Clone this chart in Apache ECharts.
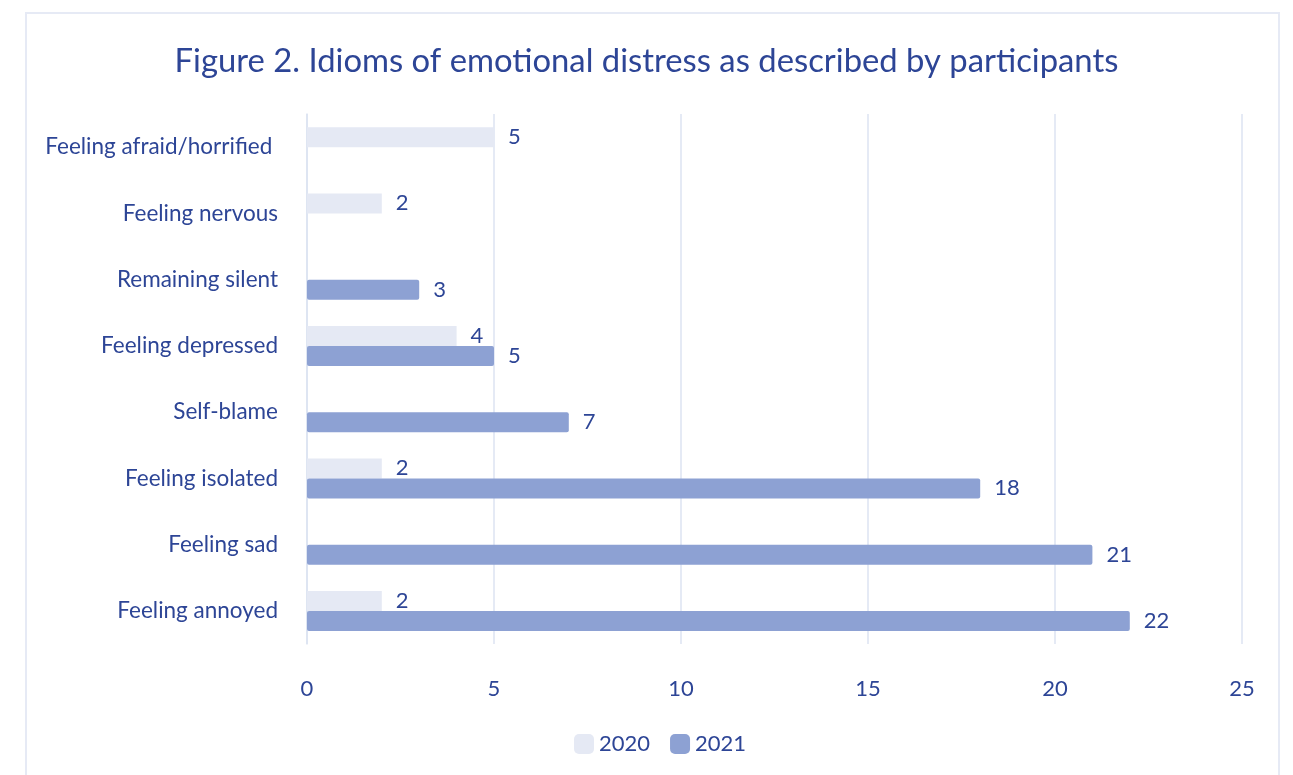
<!DOCTYPE html>
<html>
<head>
<meta charset="utf-8">
<script src="https://cdn.jsdelivr.net/npm/echarts@6/dist/echarts.min.js"></script>
<style>
  html, body { margin: 0; padding: 0; background: #fff; }
  #frame { position: absolute; left: 25px; top: 12px; width: 1255px; height: 780px; border: 2px solid #e6eaf5; box-sizing: border-box; }
  #chart { position: absolute; left: 0; top: 0; width: 1293px; height: 775px; }
</style>
</head>
<body>
<div id="frame"></div>
<div id="chart"></div>
<script>
// categories, listed top to bottom
var categories = ['Feeling afraid/horrified ', 'Feeling nervous', 'Remaining silent', 'Feeling depressed',
    'Self-blame', 'Feeling isolated', 'Feeling sad', 'Feeling annoyed'];
var values2020 = [5, 2, null, 4, null, 2, null, 2];
var values2021 = [null, null, 3, 5, 7, 18, 21, 22];
var xTicks = [0, 5, 10, 15, 20, 25];

var textColor = '#2d4596';

var chart = echarts.init(document.getElementById('chart'));

var labelStyle = {
    show: true,
    position: 'right',
    distance: 14,
    color: textColor,
    fontSize: 22,
    fontFamily: 'Lato'
};

var option = {
    title: {
        text: 'Figure 2. Idioms of emotional distress as described by participants',
        left: 'center',
        top: 40,
        textStyle: { color: textColor, fontSize: 32.8, fontWeight: 'normal', fontFamily: 'Lato' }
    },
    legend: {
        data: ['2020', '2021'],
        bottom: 15,
        left: 569,
        itemWidth: 20,
        itemHeight: 20,
        itemGap: 20,
        textStyle: { color: textColor, fontSize: 22, fontFamily: 'Lato' }
    },
    grid: { left: 307, right: 51, top: 114, bottom: 131 },
    xAxis: {
        type: 'value',
        min: xTicks[0],
        max: xTicks[xTicks.length - 1],
        interval: 5,
        axisLine: { show: false },
        axisTick: { show: false },
        splitLine: { lineStyle: { color: '#dde3f2', width: 1.5 } },
        axisLabel: { color: textColor, fontSize: 22, fontFamily: 'Lato', margin: 34 }
    },
    yAxis: {
        type: 'category',
        inverse: true,
        data: categories,
        axisTick: { show: false },
        axisLine: { show: true, lineStyle: { color: '#dde3f2', width: 1.5 } },
        axisLabel: { color: textColor, fontSize: 22.5, fontFamily: 'Lato', margin: 29 }
    },
    series: [
        {
            name: '2020',
            type: 'bar',
            data: values2020,
            barWidth: 20,
            barGap: '0%',
            itemStyle: { color: '#e5e9f4' },
            label: labelStyle
        },
        {
            name: '2021',
            type: 'bar',
            data: values2021,
            barWidth: 20,
            barGap: '0%',
            itemStyle: { color: '#8da1d3', borderRadius: 2 },
            label: labelStyle
        }
    ]
};

chart.setOption(option);
</script>
</body>
</html>
